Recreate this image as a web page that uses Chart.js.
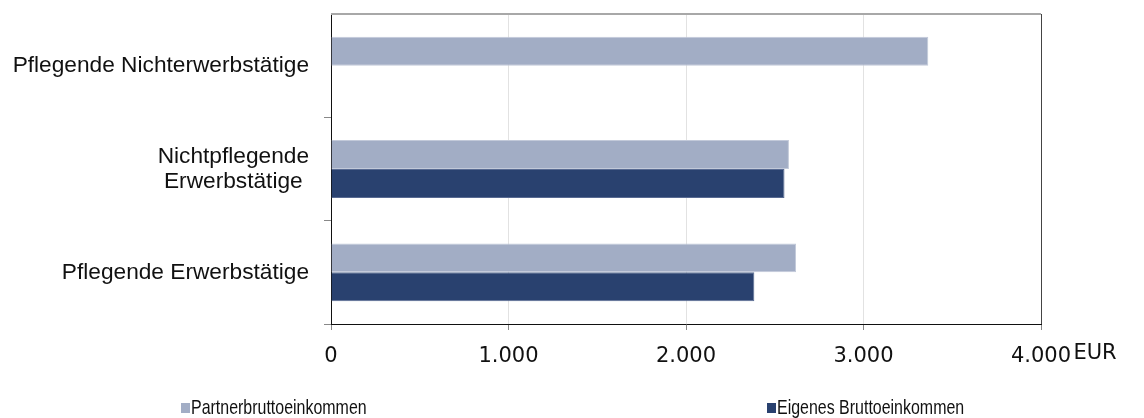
<!DOCTYPE html>
<html>
<head>
<meta charset="utf-8">
<script src="https://cdn.jsdelivr.net/npm/chart.js@4/dist/chart.umd.min.js"></script>
<style>
  html, body { margin: 0; padding: 0; background: #fff; }
  #wrap { width: 1144px; height: 418px; position: relative; }
</style>
</head>
<body>
<div id="wrap"><canvas id="graphCanvas"></canvas></div>
<script>
// data
var categories = ["Pflegende Nichterwerbstätige", ["Nichtpflegende", "Erwerbstätige "], "Pflegende Erwerbstätige"];
var partnerIncome = [3365, 2580, 2620];
var ownIncome = [null, 2555, 2385];
var xTickLabels = ["0", "1.000", "2.000", "3.000", "4.000"];
var unitLabel = "EUR";

// frame (top + right border) and the EUR unit next to the x ticks
var framePlugin = {
  id: 'frame',
  afterDraw: function(chart) {
    var ctx = chart.ctx, a = chart.chartArea, x = chart.scales.x;
    ctx.save();
    ctx.strokeStyle = '#a8a8a8';
    ctx.lineWidth = 2;
    ctx.beginPath(); ctx.moveTo(a.left, a.top); ctx.lineTo(a.right, a.top); ctx.stroke();
    ctx.strokeStyle = '#444';
    ctx.lineWidth = 1;
    ctx.beginPath(); ctx.moveTo(a.right + 0.5, a.top); ctx.lineTo(a.right + 0.5, a.bottom); ctx.stroke();
    ctx.fillStyle = '#111';
    ctx.font = '21px "DejaVu Sans"';
    ctx.textAlign = 'center';
    ctx.textBaseline = 'middle';
    ctx.fillText(unitLabel, x.getPixelForValue(4000) + 54, a.bottom + 30);
    ctx.restore();
  }
};

// legend spread out like the original, text squeezed to look condensed
var legendPlugin = {
  id: 'wideLegend',
  afterDraw: function(chart) {
    var ctx = chart.ctx;
    var xs = [181, 767];
    ctx.save();
    ctx.font = '21px "Liberation Sans"';
    ctx.textBaseline = 'middle';
    chart.data.datasets.forEach(function(ds, i) {
      ctx.fillStyle = ds.backgroundColor;
      ctx.fillRect(xs[i], 403, 9, 10);
      ctx.save();
      ctx.translate(xs[i] + 10, 408);
      ctx.scale(0.76, 1);
      ctx.fillStyle = '#111';
      ctx.fillText(ds.label, 0, 0);
      ctx.restore();
    });
    ctx.restore();
  }
};

var graphTarget = document.getElementById('graphCanvas');
var barGraph = new Chart(graphTarget, {
  type: 'bar',
  data: {
    labels: categories,
    datasets: [
      {
        label: 'Partnerbruttoeinkommen',
        backgroundColor: '#a2adc5',
        borderColor: '#c2c9d9',
        borderWidth: 1,
        borderSkipped: 'start',
        data: partnerIncome
      },
      {
        label: 'Eigenes Bruttoeinkommen',
        backgroundColor: '#29416f',
        borderColor: '#586a92',
        borderWidth: 1,
        borderSkipped: 'start',
        data: ownIncome
      }
    ]
  },
  plugins: [framePlugin, legendPlugin],
  options: {
    indexAxis: 'y',
    responsive: true,
    maintainAspectRatio: false,
    animation: false,
    datasets: { bar: { categoryPercentage: 0.56, barPercentage: 1 } },
    layout: { padding: { top: 14, right: 103, left: 0, bottom: 0 } },
    plugins: {
      legend: { display: false },
      tooltip: { enabled: false }
    },
    scales: {
      x: {
        min: 0,
        max: 4000,
        afterFit: function(s) { s.height = 94; },
        ticks: {
          stepSize: 1000,
          padding: 14,
          color: '#111',
          font: { family: 'DejaVu Sans', size: 21 },
          callback: function(v) { return xTickLabels[Math.round(v / 1000)]; }
        },
        grid: { color: '#e2e2e2', tickColor: '#888', tickLength: 6, lineWidth: 1 },
        border: { color: '#111', width: 1 }
      },
      y: {
        afterFit: function(s) { s.width = 331; s.paddingTop = 0; s.paddingBottom = 0; },
        ticks: {
          padding: 15,
          color: '#111',
          font: { family: 'Liberation Sans', size: 22.7, lineHeight: 1.1 }
        },
        grid: {
          offset: true,
          drawOnChartArea: false,
          tickColor: function(c) { return c.index === 0 ? 'rgba(0,0,0,0)' : '#888'; },
          tickLength: 7
        },
        border: { color: '#111', width: 1 }
      }
    }
  }
});
</script>
</body>
</html>
